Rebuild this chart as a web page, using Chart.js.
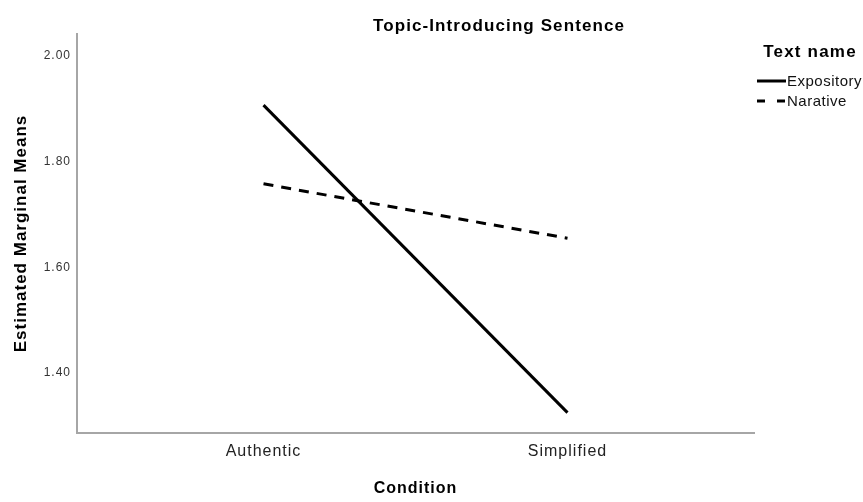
<!DOCTYPE html>
<html>
<head>
<meta charset="utf-8">
<script src="https://cdn.jsdelivr.net/npm/chart.js@4/dist/chart.umd.min.js"></script>
<style>
  html, body { margin: 0; padding: 0; background: #fff; }
  #wrap { width: 863px; height: 502px; }
</style>
</head>
<body>
<div id="wrap"><canvas id="chart" width="863" height="502"></canvas></div>
<script>
// Profile plot: Estimated Marginal Means by Condition, separate lines per text.
const conditions = ['Authentic', 'Simplified'];
const expository = [1.907, 1.325];
const narative = [1.758, 1.655];
const yTicks = [1.40, 1.60, 1.80, 2.00];

const FONT = '"Liberation Sans", Arial, sans-serif';

// SPSS text is set wide; give every canvas string a little tracking.
const spacingPlugin = {
  id: 'spacing',
  beforeLayout(chart) { chart.ctx.letterSpacing = '1px'; },
  beforeDraw(chart) { chart.ctx.letterSpacing = '1px'; },
};

// Title and legend sit outside the chart area, drawn by hand.
const overlayPlugin = {
  id: 'overlay',
  afterDraw(chart) {
    const ctx = chart.ctx;
    ctx.save();
    ctx.fillStyle = '#000';
    ctx.textBaseline = 'middle';
    ctx.textAlign = 'center';
    ctx.letterSpacing = '1.1px';
    ctx.font = 'bold 17px ' + FONT;
    ctx.fillText('Topic-Introducing Sentence', 499, 26);

    ctx.letterSpacing = '1.2px';
    ctx.fillText('Text name', 810, 52);

    ctx.strokeStyle = '#000';
    ctx.lineWidth = 3;
    ctx.beginPath();
    ctx.moveTo(757, 81);
    ctx.lineTo(786, 81);
    ctx.stroke();
    ctx.setLineDash([8, 12]);
    ctx.beginPath();
    ctx.moveTo(757, 101);
    ctx.lineTo(786, 101);
    ctx.stroke();
    ctx.setLineDash([]);

    ctx.textAlign = 'left';
    ctx.letterSpacing = '0.5px';
    ctx.fillStyle = '#111';
    ctx.font = '15px ' + FONT;
    ctx.fillText('Expository', 787, 82);
    ctx.fillText('Narative', 787, 102);
    ctx.restore();
  },
};

function points(values) {
  return values.map((v, i) => ({ x: i + 1, y: v }));
}

new Chart(document.getElementById('chart'), {
  type: 'line',
  data: {
    datasets: [
      { label: 'Expository', data: points(expository), borderColor: '#000', borderWidth: 3, pointRadius: 0, fill: false, tension: 0 },
      { label: 'Narative', data: points(narative), borderColor: '#000', borderWidth: 3, borderDash: [10, 8], pointRadius: 0, fill: false, tension: 0 },
    ],
  },
  options: {
    responsive: false,
    animation: false,
    layout: { padding: { top: 34, right: 109, bottom: 0, left: 0 } },
    plugins: {
      legend: { display: false },
      title: { display: false },
      tooltip: { enabled: false },
    },
    scales: {
      x: {
        type: 'linear',
        min: 0.3865,
        max: 2.6135,
        afterBuildTicks: (scale) => { scale.ticks = conditions.map((_, i) => ({ value: i + 1 })); },
        afterFit: (scale) => { scale.height = 69; },
        grid: { display: false, drawTicks: false },
        border: { display: true, color: '#a6a6a6', width: 2 },
        ticks: {
          padding: 9,
          color: '#222',
          font: { family: FONT, size: 16 },
          callback: (v) => conditions[v - 1] || '',
        },
        title: {
          display: true,
          text: 'Condition',
          color: '#000',
          font: { family: FONT, size: 16, weight: 'bold' },
          padding: { top: 0, bottom: 3.5 },
        },
      },
      y: {
        min: 1.2864,
        max: 2.0416,
        afterBuildTicks: (scale) => { scale.ticks = yTicks.map((v) => ({ value: v })); },
        afterFit: (scale) => { scale.width = 77; },
        grid: { display: false, drawTicks: false },
        border: { display: true, color: '#a6a6a6', width: 2 },
        ticks: {
          padding: 6,
          color: '#333',
          font: { family: FONT, size: 12 },
          callback: (v) => v.toFixed(2),
        },
        title: {
          display: true,
          text: 'Estimated Marginal Means',
          color: '#000',
          font: { family: FONT, size: 17, weight: 'bold' },
          padding: { top: 11.5, bottom: 0 },
        },
      },
    },
  },
  plugins: [spacingPlugin, overlayPlugin],
});
</script>
</body>
</html>
